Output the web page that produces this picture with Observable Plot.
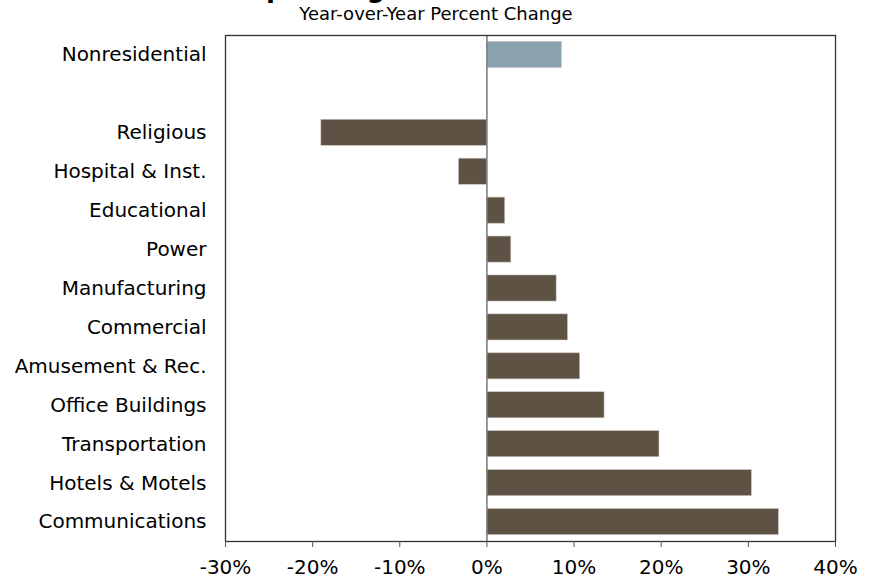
<!DOCTYPE html>
<html>
<head>
<meta charset="utf-8">
<script src="https://cdn.jsdelivr.net/npm/d3@7"></script>
<script src="https://cdn.jsdelivr.net/npm/@observablehq/plot@0.6"></script>
<style>
  html, body { margin: 0; padding: 0; background: #fff; }
  #chart { position: relative; width: 870px; height: 579px; overflow: hidden; }
</style>
</head>
<body>
<div id="chart"></div>
<script>
const titleText = "Nonresidential Spending";
const subtitleText = "Year-over-Year Percent Change";
const categories = ["Nonresidential", " ", "Religious", "Hospital & Inst.", "Educational", "Power", "Manufacturing", "Commercial", "Amusement & Rec.", "Office Buildings", "Transportation", "Hotels & Motels", "Communications"];
const barCategories = ["Nonresidential", "Religious", "Hospital & Inst.", "Educational", "Power", "Manufacturing", "Commercial", "Amusement & Rec.", "Office Buildings", "Transportation", "Hotels & Motels", "Communications"];
const values = [8.6, -19.0, -3.2, 2.1, 2.8, 8.0, 9.3, 10.7, 13.5, 19.8, 30.4, 33.5];
const groups = ["total", "sector", "sector", "sector", "sector", "sector", "sector", "sector", "sector", "sector", "sector", "sector"];
const xTicks = [-30, -20, -10, 0, 10, 20, 30, 40];

const data = barCategories.map((c, i) => ({category: c, value: values[i], group: groups[i]}));

const chart = Plot.plot({
  width: 870,
  height: 579,
  marginTop: 35,
  marginBottom: 38,
  marginLeft: 225,
  marginRight: 35,
  style: {fontFamily: "'DejaVu Sans', Verdana, sans-serif", fontSize: "20px", color: "#000", background: "#fff"},
  x: {domain: [-30, 40], ticks: xTicks},
  y: {domain: categories, paddingInner: 0.33, paddingOuter: 0.165, round: false},
  color: {domain: ["total", "sector"], range: ["#8aa2b0", "#5e5245"]},
  marks: [
    Plot.barX(data, {x: "value", y: "category", fill: "group", stroke: "#c8c4bf", strokeWidth: 0.6}),
    Plot.ruleX([0], {stroke: "#808080", strokeWidth: 1.6}),
    Plot.frame({stroke: "#333", strokeWidth: 1.3}),
    Plot.axisX({ticks: xTicks, tickFormat: d => d + "%", tickSize: 6, tickPadding: 12, stroke: "#555", fontSize: 20, label: null}),
    Plot.axisY({tickSize: 0, tickPadding: 19, fontSize: 20, label: null})
  ]
});

const svg = d3.select(chart);
svg.append("text")
  .attr("x", 204).attr("y", -3)
  .attr("font-family", "'DejaVu Sans', Verdana, sans-serif")
  .attr("font-weight", "bold").attr("font-size", 26)
  .attr("fill", "#000")
  .text(titleText);
svg.append("text")
  .attr("x", 436).attr("y", 20)
  .attr("text-anchor", "middle")
  .attr("font-family", "'DejaVu Sans', Verdana, sans-serif")
  .attr("font-size", 18)
  .attr("fill", "#000")
  .text(subtitleText);

document.getElementById("chart").appendChild(chart);
</script>
</body>
</html>
